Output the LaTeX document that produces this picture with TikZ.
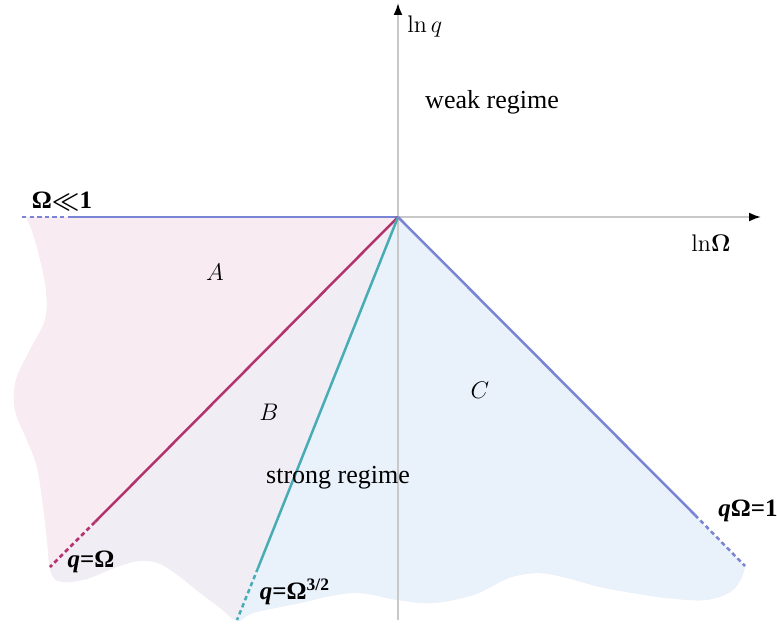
\documentclass[tikz,border=0pt]{standalone}
\usepackage{amsmath}
\usepackage[no-math]{fontspec}
\setmainfont{Liberation Serif}
\usetikzlibrary{arrows.meta,calc}
\definecolor{axisgray}{RGB}{200,200,200}
\definecolor{regA}{RGB}{249,235,242}
\definecolor{regB}{RGB}{241,237,245}
\definecolor{regC}{RGB}{233,241,251}
\definecolor{magline}{RGB}{178,52,110}
\definecolor{tealline}{RGB}{72,172,180}
\definecolor{blueline}{RGB}{122,132,212}
\begin{document}
\begin{tikzpicture}[x=0.5pt,y=-0.5pt,
  axisline/.style={draw=axisgray, line width=1pt, -{Latex[length=6pt,width=4.5pt,color=black]}},
  bound/.style={line width=1.25pt},
  dashpart/.style={line width=1.25pt, dash pattern=on 2.2pt off 1.6pt},
  lbl/.style={inner sep=0pt, font=\fontsize{13}{15}\selectfont},
  blbl/.style={inner sep=0pt, font=\fontsize{12.5}{15}\selectfont\bfseries}]
\useasboundingbox (0,0) rectangle (777,626);

\coordinate (O) at (398,217);
\coordinate (Ltop) at (22,217);
\coordinate (Ldash) at (72,217);
\coordinate (Mend) at (50,567);
\coordinate (Mdash) at (95,522);
\coordinate (Tend) at (237,620);
\coordinate (Tdash) at (258,568);
\coordinate (Rend) at (745,566);
\coordinate (Rdash) at (695,515);
\coordinate (Ytop) at (398,3);
\coordinate (Ybot) at (398,620);
\coordinate (Xend) at (761,217);

\def\shape{(O) -- (Rend) -- plot[smooth, tension=0.6] coordinates {
 (745,566) (741,579) (730,592) (705,600) (667,598) (633,593) (600,587)
 (567,578) (540,573) (515,576) (500,582) (473,595) (433,603) (398,600)
 (360,593) (330,596) (300,603) (270,609) (250,614) (237,621) (220,608)
 (200,593) (180,577) (160,564) (140,561) (117,567) (87,579) (62,582)
 (51,573) (47,540) (43,505) (37,467) (27,440) (15,410) (16,380) (30,350)
 (45,320) (46,290) (39,255) (31,228) (26,217)} -- cycle}

% regions
\fill[regB] \shape;
\begin{scope}
  \clip \shape;
  \fill[regA] (O) -- (0,217) -- ($(O)!1.2!(Mend)$) -- cycle;
  \fill[regC] (O) -- ($(O)!1.3!(Tend)$) -- (777,760) -- (777,217) -- cycle;
\end{scope}

% axes
\draw[axisline] (Ybot) -- (Ytop);
\draw[axisline] (O) -- (Xend);

% boundary lines
\draw[bound, blueline] (Ldash) -- (O);
\draw[dashpart, blueline] (Ltop) -- (Ldash);
\draw[bound, magline] (O) -- (Mdash);
\draw[dashpart, magline] (Mdash) -- (Mend);
\draw[bound, tealline] (O) -- (Tdash);
\draw[dashpart, tealline] (Tdash) -- (Tend);
\draw[bound, blueline] (O) -- (Rdash);
\draw[dashpart, blueline] (Rdash) -- (Rend);

% labels
\node[lbl, anchor=west] (lnq) at (407,27) {$\ln q$};
\node[lbl] (weak) at (492,102) {weak regime};
\node[lbl] (lnO) at (711,243) {$\mathrm{ln}\mathbf{\Omega}$};
\node[blbl] (small) at (62,201) {Ω$\boldsymbol{\ll}$1};
\node[lbl] (A) at (215,272) {$A$};
\node[lbl] (B) at (269,412) {$B$};
\node[lbl] (C) at (480,390) {$C$};
\node[lbl] (strong) at (338,478) {strong regime};
\node[blbl] (qO) at (91,562) {\textit{q}=Ω};
\node[blbl] (qO32) at (295,592) {\textit{q}=Ω\textsuperscript{3/2}};
\node[blbl] (qO1) at (748,511) {\textit{q}Ω=1};
\end{tikzpicture}
\end{document}
